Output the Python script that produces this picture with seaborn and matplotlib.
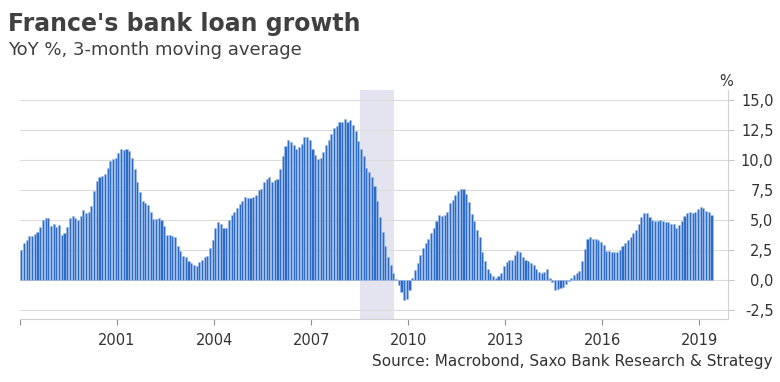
import numpy as np
import pandas as pd
import matplotlib
matplotlib.use("Agg")
import matplotlib.pyplot as plt
import seaborn as sns

# ---- data: monthly YoY % growth (3m MA), starting Jan 1998 ----
start_year = 1998
growth_1998_2001 = [2.5, 3.05, 3.3, 3.65, 3.7, 3.8, 4.0, 4.4, 5.0, 5.15, 5.15, 4.5, 4.65, 4.4,
                    4.6, 3.75, 3.9, 4.45, 5.15, 5.35, 5.15, 5.0, 5.35, 5.8, 5.55, 5.7, 6.15,
                    7.45, 8.25, 8.55, 8.7, 8.85, 9.35, 9.9, 10.1, 10.2, 10.55, 10.9, 10.85,
                    10.95, 10.75]
growth_2001_2005 = [10.15, 9.25, 8.2, 7.3, 6.6, 6.4, 6.25, 5.7, 5.1, 5.1, 5.2, 5.0, 4.5, 3.75,
                    3.75, 3.7, 3.55, 2.85, 2.4, 2.0, 1.9, 1.6, 1.45, 1.25, 1.2, 1.5, 1.7, 1.9,
                    2.0, 2.65, 3.35, 4.3, 4.8, 4.65, 4.3, 4.35, 5.0, 5.4, 5.65, 6.0, 6.35,
                    6.6, 6.95, 6.85]
growth_2005_2008 = [6.8, 6.95, 7.05, 7.5, 7.6, 8.2, 8.4, 8.55, 8.2, 8.3, 8.4, 9.25, 10.35,
                    11.15, 11.7, 11.5, 11.25, 10.9, 11.05, 11.35, 11.95, 11.9, 11.65, 10.95,
                    10.4, 10.1, 10.15, 10.65, 11.25, 11.7, 12.15, 12.7, 12.85, 13.15, 13.15,
                    13.4, 13.15, 13.3, 12.9]
growth_2008_2011 = [12.4, 11.6, 10.9, 10.3, 9.35, 9.0, 8.6, 7.85, 6.6, 5.25, 4.0, 2.85, 1.9,
                    1.25, 0.6, 0.05, -0.4, -1.0, -1.65, -1.6, -0.85, 0.2, 0.85, 1.45, 2.1,
                    2.65, 3.05, 3.45, 3.9, 4.3, 4.9, 5.4, 5.35, 5.45, 5.65, 6.4, 6.65, 7.1,
                    7.4, 7.55, 7.55, 7.2, 6.5, 5.5, 4.9]
growth_2012_2015 = [4.15, 3.6, 2.3, 1.6, 0.9, 0.6, 0.35, 0.2, 0.35, 0.6, 1.15, 1.5, 1.7, 1.7,
                    2.1, 2.4, 2.35, 1.95, 1.7, 1.6, 1.45, 1.25, 0.9, 0.7, 0.55, 0.65, 0.9,
                    0.2, -0.2, -0.85, -0.75, -0.65, -0.55, -0.35, -0.1, 0.15, 0.45, 0.55,
                    0.75, 1.6, 2.55, 3.45, 3.6]
growth_2015_2019 = [3.45, 3.4, 3.35, 3.15, 2.9, 2.45, 2.45, 2.35, 2.35, 2.35, 2.5, 2.8, 3.05,
                    3.35, 3.55, 3.9, 4.2, 4.7, 5.25, 5.6, 5.55, 5.25, 5.0, 4.9, 4.95, 5.0,
                    4.95, 4.85, 4.85, 4.7, 4.65, 4.35, 4.6, 4.9, 5.3, 5.55, 5.65, 5.6, 5.65,
                    5.9, 6.05, 6.0, 5.75, 5.65, 5.4]

recession_span = (2008.5, 2009.57)
year_ticks = [1998, 2001, 2004, 2007, 2010, 2013, 2016, 2019]
year_labels = ["", "2001", "2004", "2007", "2010", "2013", "2016", "2019"]
y_ticks = [-2.5, 0.0, 2.5, 5.0, 7.5, 10.0, 12.5, 15.0]
y_labels = ["-2,5", "0,0", "2,5", "5,0", "7,5", "10,0", "12,5", "15,0"]

title = "France's bank loan growth"
subtitle = "YoY %, 3-month moving average"
source = "Source: Macrobond, Saxo Bank Research & Strategy"

values = (growth_1998_2001 + growth_2001_2005 + growth_2005_2008 +
          growth_2008_2011 + growth_2012_2015 + growth_2015_2019)
months = np.arange(len(values))
df = pd.DataFrame({"t": start_year + (months + 0.5) / 12.0, "growth": values})

sns.set_theme(style="white")
plt.rcParams["font.family"] = ["DejaVu Sans"]

W, H = 780, 382
fig = plt.figure(figsize=(W / 100, H / 100), dpi=100)
left, right, top, bottom = 20, 727.7, 90, 319.3
ax = fig.add_axes([left / W, 1 - bottom / H, (right - left) / W, (bottom - top) / H])

ax.axvspan(*recession_span, color="#e4e4f0", lw=0, zorder=0)
sns.barplot(data=df, x="t", y="growth", native_scale=True, width=0.78,
            color="#2d6cc6", edgecolor="#9dbce8", linewidth=0.4, saturation=1,
            errorbar=None, ax=ax, zorder=2)

ax.set_xlim(1998.0, 1998 + (right - left) / 32.35)
ax.set_ylim(-3.275, 15.833)
ax.set_xticks(year_ticks)
ax.set_xticklabels(year_labels)
ax.set_yticks(y_ticks)
ax.yaxis.tick_right()
ax.set_yticklabels(y_labels, ha="right")
ax.set_xlabel("")
ax.set_ylabel("")

ax.grid(axis="y", color="#dcdcdc", lw=0.8, zorder=1)
ax.grid(axis="x", visible=False)
ax.set_axisbelow(True)

for s in ["left", "top"]:
    ax.spines[s].set_visible(False)
for s in ["right", "bottom"]:
    ax.spines[s].set_color("#d0d0d0")
    ax.spines[s].set_linewidth(0.8)

ax.tick_params(axis="y", right=True, left=False, length=4, width=0.8, color="#c8c8c8",
               pad=29, labelsize=10.5, labelcolor="#333333")
ax.tick_params(axis="x", bottom=True, length=4, width=0.8, color="#909090",
               pad=6, labelsize=10.5, labelcolor="#333333")

fig.text(8 / W, 1 - 31 / H, title, fontsize=17, fontweight="bold", color="#404040",
         va="baseline", ha="left")
fig.text(8 / W, 1 - 55 / H, subtitle, fontsize=13, color="#404040",
         va="baseline", ha="left")
fig.text(772 / W, 1 - 366 / H, source, fontsize=11, color="#333333",
         va="baseline", ha="right")
fig.text(726 / W, 1 - 81 / H, "%", fontsize=10.5, color="#333333",
         va="center", ha="center")

fig.savefig("out.png", dpi=100)
